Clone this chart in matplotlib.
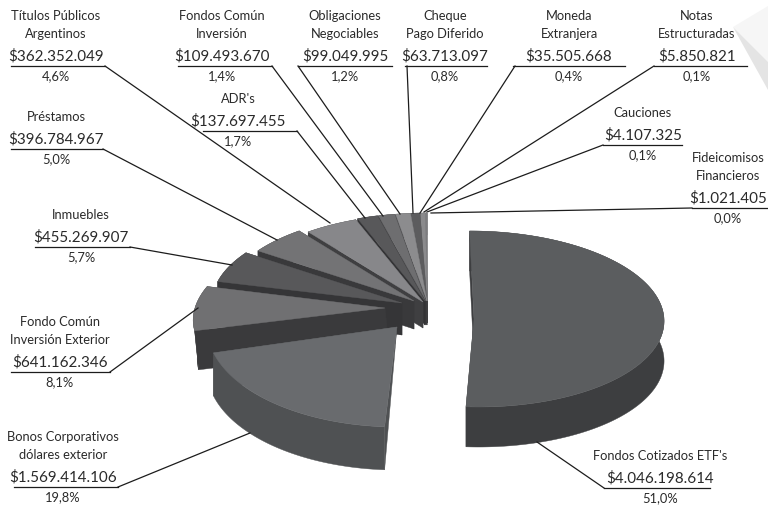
import numpy as np
import matplotlib
matplotlib.use("Agg")
import matplotlib.pyplot as plt
from matplotlib.patches import Polygon

# ---- data ----
categories = [["Fondos Cotizados ETF's"], ["Bonos Corporativos", "dólares exterior"],
              ["Fondo Común", "Inversión Exterior"], ["Inmuebles"], ["Préstamos"],
              ["Títulos Públicos", "Argentinos"], ["ADR's"], ["Fondos Común", "Inversión"],
              ["Obligaciones", "Negociables"], ["Cheque", "Pago Diferido"],
              ["Moneda", "Extranjera"], ["Notas", "Estructuradas"], ["Cauciones"],
              ["Fideicomisos", "Financieros"]]
values = [4046198614, 1569414106, 641162346, 455269907, 396784967, 362352049, 137697455,
          109493670, 99049995, 63713097, 35505668, 5850821, 4107325, 1021405]
percents = [51.0, 19.8, 8.1, 5.7, 5.0, 4.6, 1.7, 1.4, 1.2, 0.8, 0.4, 0.1, 0.1, 0.0]

# ---- layout / style ----
center = (427, 301)
rx = 190
rys = [88, 100, 88, 88, 88, 88, 88, 88, 88, 88, 88, 88, 88, 88]
offsets = [(47, 18), (-30, 26), (-42, 7), (-25, 2), (-13, 0), (-4, 1), (-2, 0),
           (-1, 0), (0, 0), (0, 0), (0, 0), (0, 0), (0, 0), (0, 0)]
shears = [0.05, 0, -0.3, 0, 0, 0, 0, 0, 0, 0, 0, 0, 0, 0]
depths = [(0, 40), (0, 43), (4, 39), (0, 32), (0, 28), (0, 26), (0, 24),
          (0, 24), (0, 24), (0, 24), (0, 22), (0, 22), (0, 22), (0, 22)]
tapered = [False, True] + [False] * 12
tops = ['#5b5d5f', '#696b6e', '#707072', '#58585a', '#737375', '#87878a', '#58585a',
        '#6e6e70', '#8c8c8e', '#5c5c5e', '#8a8a8c', '#77777a', '#8a8a8c', '#9a9a9c']
sides = ['#3d3e40', '#4f5153', '#3a3a3c', '#353537', '#39393b', '#3f3f41', '#333335',
         '#3a3a3c', '#404042', '#333335', '#404042', '#3a3a3c', '#404042', '#505052']

# text centre x; underline x0, x1, y; leader start and end on the slice
label_pos = [(660, 604, 710, 488, (604, 488), (537, 442)),
             (63, 14, 118, 487, (118, 487), (250, 433)),
             (60, 11, 110, 372, (110, 372), (198, 308)),
             (81, 35, 130, 247, (130, 247), (232, 265)),
             (56, 11, 103, 149, (103, 149), (277, 240)),
             (56, 11, 105, 66, (105, 66), (330, 223)),
             (238, 203, 297, 131, (297, 131), (365, 218)),
             (222, 178, 272, 66, (272, 66), (383, 216)),
             (345, 298, 392, 66, (298, 66), (400, 214)),
             (445, 405, 487, 66, (407, 66), (413, 213)),
             (569, 513, 625, 66, (515, 66), (420, 213)),
             (697, 654, 747, 66, (654, 66), (424, 212)),
             (643, 603, 682, 145, (603, 145), (427, 212)),
             (728, 692, 767, 208, (692, 208), (431, 213))]

plt.rcParams['font.family'] = ['Lato', 'DejaVu Sans']
fig = plt.figure(figsize=(7.68, 5.07), dpi=100)
ax = fig.add_axes([0, 0, 1, 1])
ax.set_xlim(0, 768)
ax.set_ylim(507, 0)
ax.axis('off')

# faint decoration in the top right corner
ax.add_patch(Polygon([(733, 27), (768, 6), (768, 62)], fc='#f6f6f6', ec='none', zorder=0))
ax.add_patch(Polygon([(733, 27), (768, 62), (768, 90)], fc='#e4e4e4', ec='none', zorder=0))

total = sum(values)
edges = np.concatenate([[0], np.cumsum(values)]) / total * 2 * np.pi

# painter's order: from the last slice back to the first
for i in range(len(values) - 1, -1, -1):
    cx = center[0] + offsets[i][0]
    cy = center[1] + offsets[i][1]
    a0, a1 = edges[i], edges[i + 1]
    t = np.linspace(a0, a1, max(int((a1 - a0) * 80), 2))
    dy = -rys[i] * np.cos(t)
    arc = np.c_[cx + rx * np.sin(t) + shears[i] * dy, cy + dy]
    apex = np.array([cx, cy])
    d = np.array(depths[i])
    kw = dict(fc=sides[i], ec=sides[i], lw=0.3, zorder=2)
    ax.add_patch(Polygon(np.vstack([arc, (arc + d)[::-1]]), **kw))
    for q in (arc[0], arc[-1]):
        wall = [apex, q, q + d] if tapered[i] else [apex, q, q + d, apex + d]
        ax.add_patch(Polygon(wall, **kw))
    ax.add_patch(Polygon(np.vstack([[apex], arc]), fc=tops[i], ec=tops[i], lw=0.3, zorder=3))

text_c = '#2a2a2a'
for cat, v, pc, lp in zip(categories, values, percents, label_pos):
    xc, ux0, ux1, uy, a, b = lp
    for j, line in enumerate(cat[::-1]):
        ax.text(xc, uy - 32 - 18 * j, line, ha='center', va='center', fontsize=9.3,
                color=text_c, zorder=5)
    ax.text(xc, uy - 9.5, "$" + f"{v:,}".replace(",", "."), ha='center', va='center',
            fontsize=10.9, color=text_c, zorder=5)
    ax.text(xc, uy + 10, f"{pc:.1f}%".replace(".", ","), ha='center', va='center',
            fontsize=9.3, color=text_c, zorder=5)
    ax.plot([ux0, ux1], [uy, uy], color='#1c1c1c', lw=0.9, zorder=4)
    ax.plot([a[0], b[0]], [a[1], b[1]], color='#1c1c1c', lw=0.9, zorder=4)

fig.savefig("out.png", dpi=100)
